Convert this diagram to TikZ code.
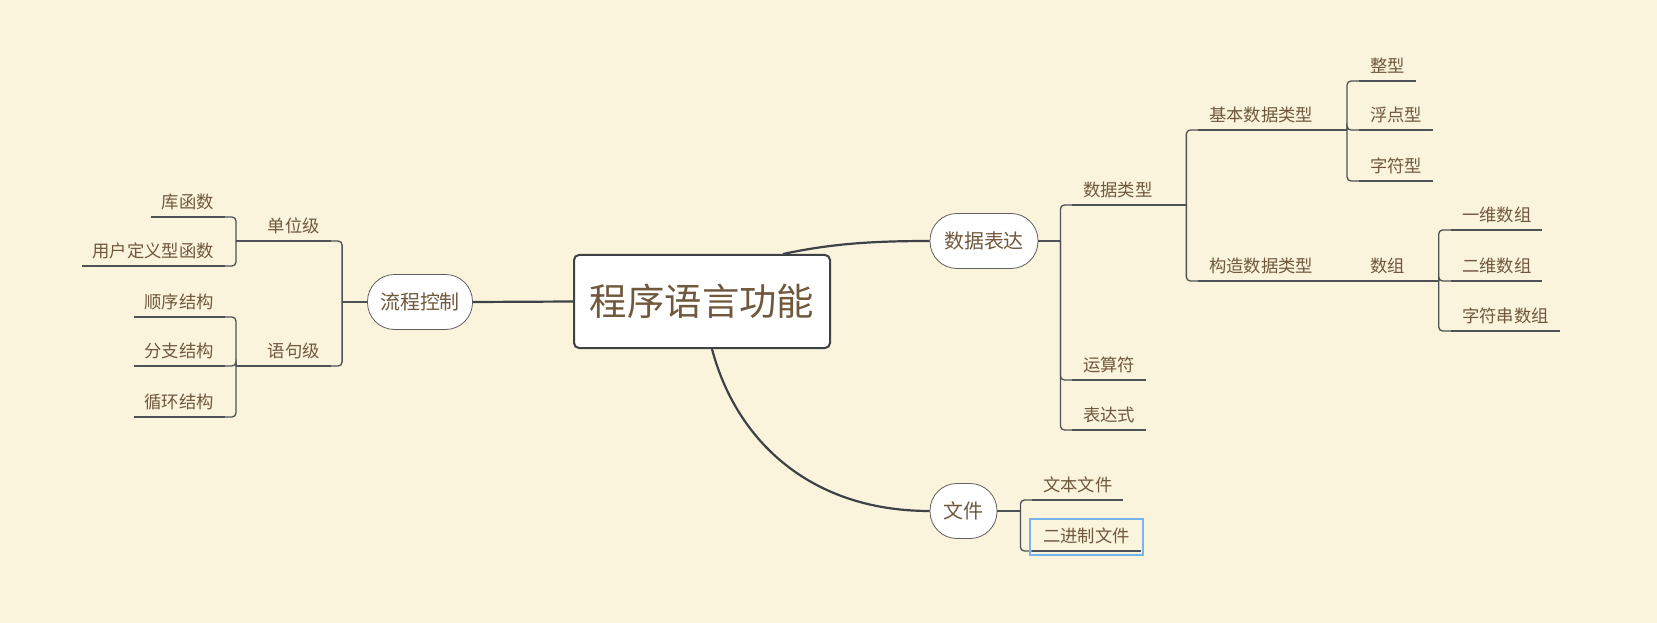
\documentclass[tikz,border=0pt]{standalone}
\usepackage{fontspec}
\newfontfamily\cjk{Noto Sans CJK SC}
\usetikzlibrary{calc}

\definecolor{bgcol}{RGB}{251,244,221}
\definecolor{txt}{RGB}{112,88,60}
\definecolor{trunkcol}{RGB}{61,66,71}
\definecolor{branchcol}{RGB}{78,82,86}
\definecolor{nodeline}{RGB}{95,95,95}
\definecolor{selblue}{RGB}{120,180,240}

\begin{document}
\begin{tikzpicture}[x=1bp, y=-1bp]
    \tikzstyle{rootbox} = [rectangle, rounded corners=5bp, draw=trunkcol, line width=2bp, fill=white, minimum width=256bp, minimum height=93bp, text=txt, font=\cjk\fontsize{37.5}{40}\selectfont]
    \tikzstyle{mainnode} = [rectangle, rounded corners=27bp, draw=nodeline, line width=0.8bp, fill=white, minimum height=55bp, text=txt, font=\cjk\fontsize{20}{24}\selectfont]
    \tikzstyle{topic} = [inner xsep=11bp, inner ysep=8.5bp, text height=12bp, text depth=0pt, outer sep=0pt, text=txt, font=\cjk\fontsize{17.4}{20}\selectfont]
    \tikzstyle{trunk} = [draw=trunkcol, line width=2.2bp]
    \tikzstyle{branch} = [draw=branchcol, line width=1.3bp, rounded corners=4bp]
    \tikzstyle{selbox} = [draw=selblue, line width=2bp]

    \path[fill=bgcol, use as bounding box] (0,0) rectangle (1657,623);

    \node (root) [rootbox] at (702,301.5) {程序语言功能};
    \node (liucheng) [mainnode, minimum width=105bp] at (420,302) {流程控制};
    \node (shuju) [mainnode, minimum width=108bp] at (984,241) {数据表达};
    \node (wenjian) [mainnode, minimum width=67bp] at (963.5,511) {文件};

    \node (danwei) [topic, anchor=south east] at (331,241) {单位级};
    \node (yuju) [topic, anchor=south east] at (331,366) {语句级};
    \node (ku) [topic, anchor=south east] at (225,217) {库函数};
    \node (yonghu) [topic, anchor=south east] at (225,266) {用户定义型函数};
    \node (shunxu) [topic, anchor=south east] at (225,317) {顺序结构};
    \node (fenzhi) [topic, anchor=south east] at (225,366) {分支结构};
    \node (xunhuan) [topic, anchor=south east] at (225,417) {循环结构};

    \node (leixing) [topic, anchor=south west] at (1072,205) {数据类型};
    \node (yunsuan) [topic, anchor=south west] at (1072,380) {运算符};
    \node (biaoda) [topic, anchor=south west] at (1072,430) {表达式};
    \node (jiben) [topic, anchor=south west] at (1198,130) {基本数据类型};
    \node (gouzao) [topic, anchor=south west] at (1198,281) {构造数据类型};
    \node (zheng) [topic, anchor=south west] at (1359,81) {整型};
    \node (fudian) [topic, anchor=south west] at (1359,130) {浮点型};
    \node (zifu) [topic, anchor=south west] at (1359,181) {字符型};
    \node (shuzu) [topic, anchor=south west] at (1359,281) {数组};
    \node (yiwei) [topic, anchor=south west] at (1451,230) {一维数组};
    \node (erwei) [topic, anchor=south west] at (1451,281) {二维数组};
    \node (zfc) [topic, anchor=south west] at (1451,331) {字符串数组};

    \node (wenben) [topic, anchor=south west] at (1032,500) {文本文件};
    \node (erjinzhi) [topic, anchor=south west] at (1032,551) {二进制文件};

    \foreach \n in {danwei,yuju,ku,yonghu,shunxu,fenzhi,xunhuan,leixing,yunsuan,biaoda,jiben,gouzao,zheng,fudian,zifu,shuzu,yiwei,erwei,zfc,wenben,erjinzhi}
        \draw [branch] (\n.south west) -- (\n.south east);

    \draw [trunk] (root.west) -- (liucheng.east);
    \draw [trunk] ([xshift=81bp]root.north) .. controls +(47,-10) and +(-60,0) .. (shuju.west);
    \draw [trunk] ([xshift=10bp]root.south) .. controls +(24,91) and +(-120,0) .. (wenjian.west);

    \draw [branch] (liucheng.west) -- ++(-25,0) coordinate (jL);
    \draw [branch] (jL) |- (danwei.south east);
    \draw [branch] (jL) |- (yuju.south east);
    \draw [branch] (danwei.south west) -- ++(-21,0) coordinate (jU);
    \draw [branch] (jU) |- (ku.south east);
    \draw [branch] (jU) |- (yonghu.south east);
    \draw [branch] (yuju.south west) -- ++(-21,0) coordinate (jY);
    \draw [branch] (jY) |- (shunxu.south east);
    \draw [branch] (jY) |- (fenzhi.south east);
    \draw [branch] (jY) |- (xunhuan.south east);

    \draw [branch] (shuju.east) -- ++(22,0) coordinate (jD);
    \draw [branch] (jD) |- (leixing.south west);
    \draw [branch] (jD) |- (yunsuan.south west);
    \draw [branch] (jD) |- (biaoda.south west);
    \draw [branch] (leixing.south east) -- ++(23,0) coordinate (jT);
    \draw [branch] (jT) |- (jiben.south west);
    \draw [branch] (jT) |- (gouzao.south west);
    \draw [branch] (jiben.south east) -- ++(23,0) coordinate (jB);
    \draw [branch] (jB) |- (zheng.south west);
    \draw [branch] (jB) |- (fudian.south west);
    \draw [branch] (jB) |- (zifu.south west);
    \draw [branch] (gouzao.south east) -- (shuzu.south west);
    \draw [branch] (shuzu.south east) -- ++(23,0) coordinate (jS);
    \draw [branch] (jS) |- (yiwei.south west);
    \draw [branch] (jS) |- (erwei.south west);
    \draw [branch] (jS) |- (zfc.south west);

    \draw [branch] (wenjian.east) -- ++(23,0) coordinate (jF);
    \draw [branch] (jF) |- (wenben.south west);
    \draw [branch] (jF) |- (erjinzhi.south west);

    \draw [selbox] ([shift={(-2bp,-4bp)}]erjinzhi.south west) rectangle ([shift={(2bp,3bp)}]erjinzhi.north east);
\end{tikzpicture}
\end{document}
